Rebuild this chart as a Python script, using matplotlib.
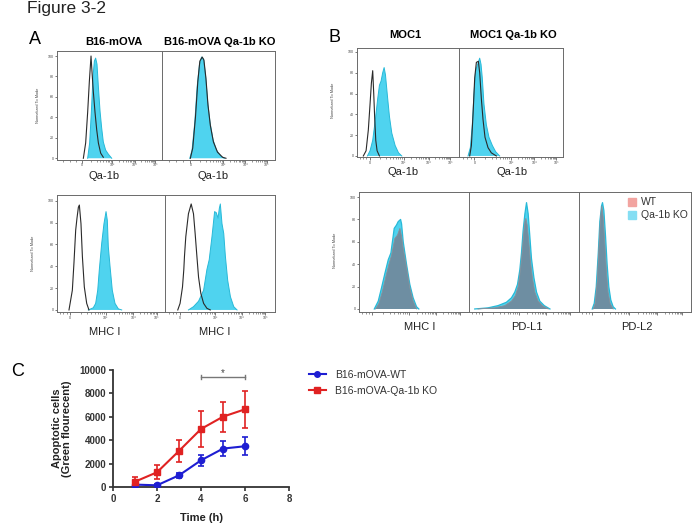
import matplotlib
matplotlib.use('Agg')
import matplotlib.pyplot as plt
from matplotlib.lines import Line2D
import numpy as np

plt.rcParams['font.family'] = ['Liberation Sans', 'DejaVu Sans']

W, H = 694, 532
fig = plt.figure(figsize=(W / 100, H / 100), dpi=100)


def box(l, t, r, b):
    return [l / W, 1 - b / H, (r - l) / W, (b - t) / H]


# ------------------------------------------------------------------ data
# Histograms: x = channel position (fraction of the panel width), y = % of mode
# Panel A, top row (Qa-1b)
a_tl_iso_x = [0.251, 0.273, 0.292, 0.308, 0.324, 0.333, 0.346, 0.362, 0.378, 0.394, 0.416, 0.441]
a_tl_iso_y = [0, 15, 45, 75, 100, 85, 65, 45, 28, 15, 5, 1]
a_tl_stain_x = [0.292, 0.311, 0.327, 0.343, 0.356, 0.368, 0.381, 0.394, 0.410, 0.425, 0.441, 0.463, 0.489, 0.521]
a_tl_stain_y = [0, 15, 45, 80, 95, 98, 92, 70, 46, 30, 16, 8, 4, 0]
a_tr_iso_x = [0.251, 0.272, 0.296, 0.317, 0.335, 0.356, 0.371, 0.389, 0.407, 0.428, 0.455, 0.491, 0.536, 0.566]
a_tr_iso_y = [0, 10, 40, 75, 95, 99, 96, 78, 52, 32, 16, 6, 1, 0]
a_tr_stain_x = [0.246, 0.266, 0.290, 0.311, 0.332, 0.350, 0.368, 0.386, 0.404, 0.425, 0.452, 0.482, 0.521, 0.551]
a_tr_stain_y = [0, 8, 35, 70, 92, 99, 97, 80, 55, 35, 18, 8, 2, 0]
# Panel A, bottom row (MHC I)
a_bl_iso_x = [0.111, 0.142, 0.157, 0.173, 0.185, 0.198, 0.207, 0.222, 0.235, 0.253, 0.275, 0.296]
a_bl_iso_y = [0, 18, 43, 73, 84, 94, 96, 79, 49, 21, 6, 0]
a_bl_stain_x = [0.290, 0.336, 0.358, 0.377, 0.392, 0.414, 0.435, 0.454, 0.466, 0.475, 0.491, 0.512, 0.537, 0.568, 0.599]
a_bl_stain_y = [0, 2, 6, 18, 37, 61, 79, 90, 82, 58, 40, 18, 6, 1, 0]
a_br_iso_x = [0.116, 0.137, 0.159, 0.171, 0.177, 0.189, 0.213, 0.238, 0.259, 0.274, 0.290, 0.305, 0.326, 0.351, 0.381, 0.412]
a_br_iso_y = [0, 6, 21, 37, 49, 67, 88, 97, 88, 70, 49, 30, 15, 6, 1.5, 0]
a_br_stain_x = [0.213, 0.259, 0.305, 0.351, 0.381, 0.402, 0.427, 0.451, 0.466, 0.482, 0.494, 0.503, 0.518, 0.534, 0.549, 0.570, 0.595, 0.625, 0.655]
a_br_stain_y = [0, 3, 8, 18, 37, 46, 67, 90, 89, 84, 93, 97, 79, 70, 49, 27, 12, 3, 0]
# Panel B, top row (Qa-1b)
b_tl_iso_x = [0.062, 0.089, 0.111, 0.128, 0.141, 0.154, 0.164, 0.174, 0.184, 0.197, 0.220]
b_tl_iso_y = [0, 5, 25, 50, 70, 82, 60, 35, 15, 5, 0]
b_tl_stain_x = [0.102, 0.128, 0.154, 0.180, 0.203, 0.220, 0.236, 0.252, 0.266, 0.279, 0.298, 0.318, 0.341, 0.374, 0.407, 0.439]
b_tl_stain_y = [0, 5, 15, 35, 55, 68, 72, 80, 85, 78, 58, 38, 22, 10, 3, 0]
b_tr_iso_x = [0.103, 0.119, 0.135, 0.151, 0.167, 0.186, 0.199, 0.215, 0.231, 0.250, 0.279, 0.311, 0.359]
b_tr_iso_y = [0, 10, 40, 75, 90, 91, 80, 55, 35, 18, 8, 3, 0]
b_tr_stain_x = [0.087, 0.109, 0.128, 0.144, 0.160, 0.179, 0.199, 0.212, 0.224, 0.240, 0.263, 0.288, 0.321, 0.353, 0.391]
b_tr_stain_y = [0, 8, 30, 60, 82, 88, 94, 88, 75, 50, 30, 18, 10, 4, 0]
# Panel B, bottom row (WT vs Qa-1b KO)
mhc_ko_x = [0.139, 0.175, 0.205, 0.236, 0.266, 0.290, 0.320, 0.341, 0.356, 0.378, 0.387, 0.402, 0.432, 0.462, 0.492, 0.523, 0.544]
mhc_ko_y = [0, 7, 19, 32, 44, 50, 72, 75, 78, 80, 76, 60, 40, 22, 10, 2, 0]
mhc_wt_x = [0.151, 0.181, 0.211, 0.242, 0.272, 0.296, 0.326, 0.350, 0.372, 0.387, 0.402, 0.432, 0.462, 0.492, 0.523]
mhc_wt_y = [0, 5, 15, 28, 40, 48, 63, 66, 72, 65, 54, 37, 19, 7, 0]
pdl1_ko_x = [0.052, 0.173, 0.264, 0.340, 0.386, 0.416, 0.441, 0.462, 0.477, 0.492, 0.508, 0.523, 0.538, 0.553, 0.568, 0.590, 0.614, 0.644, 0.684, 0.736]
pdl1_ko_y = [0, 1, 3, 6, 10, 15, 22, 35, 50, 70, 85, 95, 85, 65, 45, 28, 15, 7, 3, 0]
pdl1_wt_x = [0.082, 0.234, 0.325, 0.386, 0.422, 0.447, 0.468, 0.483, 0.495, 0.508, 0.517, 0.529, 0.544, 0.559, 0.578, 0.599, 0.629, 0.666, 0.720]
pdl1_wt_y = [0, 1, 3, 7, 12, 20, 35, 50, 65, 78, 81, 75, 60, 42, 27, 15, 7, 3, 0]
pdl2_ko_x = [0.118, 0.136, 0.154, 0.172, 0.186, 0.201, 0.210, 0.222, 0.237, 0.251, 0.266, 0.284, 0.305, 0.325]
pdl2_ko_y = [0, 5, 20, 50, 78, 92, 95, 88, 65, 40, 20, 8, 2, 0]
pdl2_wt_x = [0.127, 0.145, 0.163, 0.178, 0.192, 0.204, 0.216, 0.231, 0.246, 0.260, 0.278, 0.305]
pdl2_wt_y = [0, 5, 25, 55, 82, 92, 82, 58, 32, 15, 5, 0]

y_ticks = [0, 20, 40, 60, 80, 100]
x_tick_labels = ['0', '10³', '10⁴', '10⁵']

# Panel C
time_h = [1, 2, 3, 4, 5, 6]
wt_mean = [230, 170, 1020, 2300, 3300, 3500]
wt_err = [170, 100, 230, 470, 625, 780]
ko_mean = [480, 1280, 3100, 4970, 6020, 6650]
ko_err = [400, 600, 950, 1500, 1280, 1560]
series_names = ['B16-mOVA-WT', 'B16-mOVA-Qa-1b KO']
sig_span = [4, 6]
sig_level = 9375

# ------------------------------------------------------------------ styles
CYAN = '#4fd3ef'
CYAN_EDGE = '#27b9d8'
ISO = '#2a2a2a'
WT_FILL = '#6e8ea2'
WT_EDGE = '#8a8e98'
SPINE = '#6a6a6a'
BLUE = '#1e1ed2'
RED = '#e02222'


def setup_hist(ax, ylim, majors, show_y, show_xlabels=True):
    ax.set_xlim(0, 1)
    ax.set_ylim(*ylim)
    for s in ax.spines.values():
        s.set_color(SPINE)
        s.set_linewidth(0.7)
    ax.set_xticks(majors)
    if show_xlabels:
        ax.set_xticklabels(x_tick_labels[:len(majors)], fontsize=2.6, color='#444')
    else:
        ax.set_xticklabels([])
    minors = []
    for a, b in zip(majors[1:-1], majors[2:]):
        minors += [a + (b - a) * np.log10(k) for k in range(2, 10)]
    a, b = majors[0], majors[1]
    minors += [a + (b - a) * np.log10(k) for k in range(2, 10)]
    minors += [majors[0] * f for f in (0.25, 0.5, 0.75)]
    ax.set_xticks(minors, minor=True)
    ax.tick_params(axis='x', which='major', length=2, width=0.5, pad=0.8, color='#444')
    ax.tick_params(axis='x', which='minor', length=1.2, width=0.4, color='#444')
    if show_y:
        ax.set_yticks(y_ticks)
        ax.set_yticklabels([str(v) for v in y_ticks], fontsize=2.6, color='#444')
        ax.tick_params(axis='y', length=1.5, width=0.5, pad=0.8, color='#444')
    else:
        ax.set_yticks([])


def fill(ax, x, y, face, edge, lw=0.7, z=2):
    ax.fill_between(x, 0, y, facecolor=face, edgecolor='none', zorder=z)
    ax.plot(x, y, color=edge, lw=lw, zorder=z + 0.1)


def iso(ax, x, y):
    ax.plot(x, y, color=ISO, lw=0.8, zorder=4)


# ------------------------------------------------------------------ Panel A
ax = fig.add_axes(box(57, 51, 162, 159.5))
setup_hist(ax, (-1.2, 104.9), [0.241, 0.527, 0.74, 0.937], True)
fill(ax, a_tl_stain_x, a_tl_stain_y, CYAN, CYAN_EDGE)
iso(ax, a_tl_iso_x, a_tl_iso_y)
ax = fig.add_axes(box(162, 51, 275, 159.5))
setup_hist(ax, (-1.2, 104.9), [0.252, 0.543, 0.736, 0.929], False)
fill(ax, a_tr_stain_x, a_tr_stain_y, CYAN, CYAN_EDGE)
iso(ax, a_tr_iso_x, a_tr_iso_y)

ax = fig.add_axes(box(57, 195, 165, 311.7))
setup_hist(ax, (-1.6, 105.2), [0.118, 0.452, 0.706, 0.922], True)
fill(ax, a_bl_stain_x, a_bl_stain_y, CYAN, CYAN_EDGE)
iso(ax, a_bl_iso_x, a_bl_iso_y)
ax = fig.add_axes(box(165, 195, 275, 311.7))
setup_hist(ax, (-1.6, 105.2), [0.137, 0.456, 0.70, 0.91], False)
fill(ax, a_br_stain_x, a_br_stain_y, CYAN, CYAN_EDGE)
iso(ax, a_br_iso_x, a_br_iso_y)

# ------------------------------------------------------------------ Panel B
ax = fig.add_axes(box(357, 48, 459, 157))
setup_hist(ax, (-1, 103.8), [0.124, 0.458, 0.703, 0.915], True)
fill(ax, b_tl_stain_x, b_tl_stain_y, CYAN, CYAN_EDGE)
iso(ax, b_tl_iso_x, b_tl_iso_y)
ax = fig.add_axes(box(459, 48, 563, 157))
setup_hist(ax, (-1, 103.8), [0.149, 0.5, 0.725, 0.935], False)
fill(ax, b_tr_stain_x, b_tr_stain_y, CYAN, CYAN_EDGE)
iso(ax, b_tr_iso_x, b_tr_iso_y)

bottom_b = [(359, 469, mhc_ko_x, mhc_ko_y, mhc_wt_x, mhc_wt_y, True),
            (469, 579, pdl1_ko_x, pdl1_ko_y, pdl1_wt_x, pdl1_wt_y, False),
            (579, 691, pdl2_ko_x, pdl2_ko_y, pdl2_wt_x, pdl2_wt_y, False)]
for l, r, kx, ky, wx, wy, showy in bottom_b:
    ax = fig.add_axes(box(l, 192, r, 312))
    setup_hist(ax, (-2.7, 104.5), [0.12, 0.45, 0.7, 0.92], showy, show_xlabels=False)
    fill(ax, kx, ky, CYAN, CYAN_EDGE, lw=0.9)
    fill(ax, wx, wy, WT_FILL, WT_EDGE, lw=0.6, z=3)

# legend of panel B bottom
fig.add_artist(Line2D([632 / W], [1 - 202 / H], marker='s', ms=5.5, color='#f2a4a0', ls='none',
                      transform=fig.transFigure))
fig.add_artist(Line2D([632 / W], [1 - 215 / H], marker='s', ms=5.5, color='#85def3', ls='none',
                      transform=fig.transFigure))
fig.text(641 / W, 1 - 202 / H, 'WT', fontsize=7.5, va='center', color='#333')
fig.text(641 / W, 1 - 215 / H, 'Qa-1b KO', fontsize=7.5, va='center', color='#333')

# ------------------------------------------------------------------ labels
fig.text(27 / W, 1 - 0.5 / H, 'Figure 3-2', fontsize=12.5, va='top', color='#222')
fig.text(35 / W, 1 - 40 / H, 'A', fontsize=13, ha='center', va='center')
fig.text(335 / W, 1 - 37 / H, 'B', fontsize=13, ha='center', va='center')
fig.text(18 / W, 1 - 372 / H, 'C', fontsize=13, ha='center', va='center')

for txt, x, y in [('B16-mOVA', 114, 42), ('B16-mOVA Qa-1b KO', 220, 42),
                  ('MOC1', 405, 35), ('MOC1 Qa-1b KO', 513, 35)]:
    fig.text(x / W, 1 - y / H, txt, fontsize=8, fontweight='bold', ha='center', va='center')

for txt, x, y in [('Qa-1b', 104, 176), ('Qa-1b', 213, 176), ('MHC I', 105, 332), ('MHC I', 215, 332),
                  ('Qa-1b', 403, 172), ('Qa-1b', 512, 172),
                  ('MHC I', 420, 327), ('PD-L1', 527, 327), ('PD-L2', 637, 327)]:
    fig.text(x / W, 1 - y / H, txt, fontsize=8, ha='center', va='center', color='#222')

for x, y in [(38, 105), (33, 253), (333, 100), (335, 250)]:
    fig.text(x / W, 1 - y / H, 'Normalized To Mode', fontsize=2.8, rotation=90,
             ha='center', va='center', color='#444')

# ------------------------------------------------------------------ Panel C
axc = fig.add_axes(box(113, 370, 289, 487.3))
axc.errorbar(time_h, wt_mean, yerr=wt_err, color=BLUE, marker='o', ms=4.5, lw=1.5,
             capsize=2.5, elinewidth=1.2, capthick=1.2, zorder=3)
axc.errorbar(time_h, ko_mean, yerr=ko_err, color=RED, marker='s', ms=4.5, lw=1.5,
             capsize=2.5, elinewidth=1.2, capthick=1.2, zorder=3)
axc.set_xlim(0, 8)
axc.set_ylim(0, 10000)
axc.set_xticks([0, 2, 4, 6, 8])
axc.set_yticks([0, 2000, 4000, 6000, 8000, 10000])
for s in ('top', 'right'):
    axc.spines[s].set_visible(False)
for s in ('left', 'bottom'):
    axc.spines[s].set_linewidth(1.3)
    axc.spines[s].set_color('#333')
axc.tick_params(length=3, width=1.2, color='#333', labelsize=7, pad=2)
for lab in axc.get_xticklabels() + axc.get_yticklabels():
    lab.set_fontweight('bold')
    lab.set_color('#333')
axc.set_ylabel('Apoptotic cells\n(Green flourecent)', fontsize=8, fontweight='bold', color='#222',
               linespacing=1.0)
axc.yaxis.set_label_coords(-0.235, 0.5)
axc.set_xlabel('Time (h)', fontsize=8, fontweight='bold', color='#222')
axc.xaxis.set_label_coords(0.5, -0.22)
axc.plot(sig_span, [sig_level, sig_level], color='#777', lw=1.0, clip_on=False)
for xs in sig_span:
    axc.plot([xs, xs], [sig_level - 180, sig_level + 180], color='#777', lw=1.0, clip_on=False)
axc.text(np.mean(sig_span), sig_level - 50, '*', ha='center', va='bottom', fontsize=7, color='#444')

handles = [Line2D([], [], color=BLUE, marker='o', ms=4, lw=1.5),
           Line2D([], [], color=RED, marker='s', ms=4, lw=1.5)]
fig.legend(handles, series_names, loc='upper left', bbox_to_anchor=(307 / W, 1 - 368 / H),
           frameon=False, fontsize=7.5, handlelength=1.6, handletextpad=0.9, labelspacing=0.55,
           borderaxespad=0, borderpad=0.2, labelcolor='#333')

fig.savefig('out.png', dpi=100)
